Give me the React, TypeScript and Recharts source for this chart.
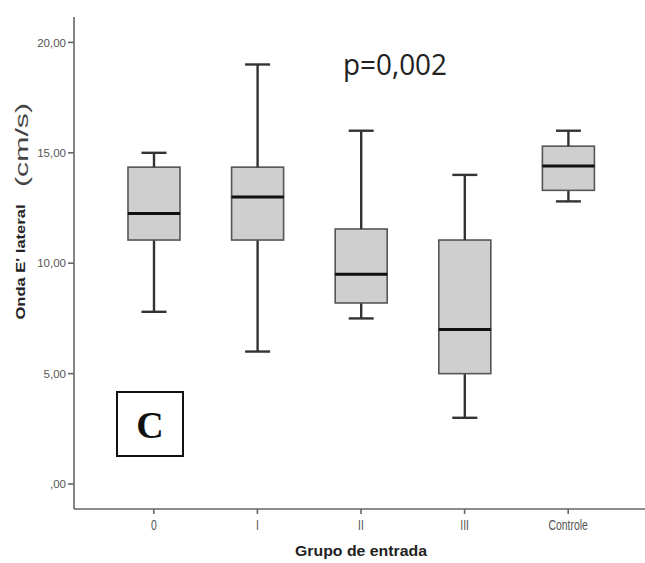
import { ComposedChart, Bar, XAxis, YAxis } from "recharts";

const groups = ["0", "I", "II", "III", "Controle"];
const whiskerLow = [7.8, 6.0, 7.5, 3.0, 12.8];
const q1 = [11.05, 11.05, 8.2, 5.0, 13.3];
const median = [12.25, 13.0, 9.5, 7.0, 14.4];
const q3 = [14.35, 14.35, 11.55, 11.05, 15.3];
const whiskerHigh = [15.0, 19.0, 16.0, 14.0, 16.0];

const yTicks = [0, 5, 10, 15, 20];
const yTickLabels = [",00", "5,00", "10,00", "15,00", "20,00"];

const data = groups.map((g, i) => ({
  group: g,
  base: whiskerLow[i],
  lowW: q1[i] - whiskerLow[i],
  boxLow: median[i] - q1[i],
  boxHigh: q3[i] - median[i],
  highW: whiskerHigh[i] - q3[i],
}));

const WHISKER = "#333";
const CAP = 12.5;

const Empty = () => <g />;

const LowerWhisker = (p: any) => {
  const cx = p.x + p.width / 2;
  const bottom = p.y + p.height;
  return (
    <g stroke={WHISKER} strokeWidth={2.4}>
      <line x1={cx} x2={cx} y1={p.y} y2={bottom} />
      <line x1={cx - CAP} x2={cx + CAP} y1={bottom} y2={bottom} />
    </g>
  );
};

const UpperWhisker = (p: any) => {
  const cx = p.x + p.width / 2;
  return (
    <g stroke={WHISKER} strokeWidth={2.4}>
      <line x1={cx} x2={cx} y1={p.y} y2={p.y + p.height} />
      <line x1={cx - CAP} x2={cx + CAP} y1={p.y} y2={p.y} />
    </g>
  );
};

const BoxLow = (p: any) => (
  <rect x={p.x} y={p.y} width={p.width} height={p.height} fill="#cfcfcf" stroke="#555" strokeWidth={1.6} />
);

const BoxHigh = (p: any) => {
  const bottom = p.y + p.height;
  return (
    <g>
      <rect x={p.x} y={p.y} width={p.width} height={p.height} fill="#cfcfcf" stroke="#555" strokeWidth={1.6} />
      <line x1={p.x} x2={p.x + p.width} y1={bottom} y2={bottom} stroke="#111" strokeWidth={3} />
    </g>
  );
};

const YTick = (p: any) => {
  const idx = yTicks.indexOf(p.payload.value);
  return (
    <text x={p.x} y={p.y} dy="0.36em" textAnchor="end" fontSize={11.5} fill="#555" fontFamily="Liberation Sans">
      {yTickLabels[idx]}
    </text>
  );
};

const XTick = (p: any) => (
  <text
    x={p.x}
    y={p.y}
    dy="0.75em"
    textAnchor="middle"
    fontSize={11}
    fill="#555"
    fontFamily="Liberation Sans"
    transform={`translate(${p.x} ${p.y}) scale(0.95 1.25) translate(${-p.x} ${-p.y})`}
  >
    {p.payload.value}
  </text>
);

const YLabel = () => (
  <g fontFamily="Liberation Sans" fill="#222">
    <text
      x={25}
      y={262}
      transform="rotate(-90 25 262)"
      textAnchor="middle"
      fontSize={13.5}
      fontWeight="bold"
      textLength={115}
      lengthAdjust="spacingAndGlyphs"
    >
      Onda E' lateral
    </text>
    <text
      x={28}
      y={145}
      transform="rotate(-90 28 145)"
      textAnchor="middle"
      fontSize={18}
      fill="#444"
      textLength={84}
      lengthAdjust="spacingAndGlyphs"
    >
      (cm/s)
    </text>
  </g>
);

const XLabel = () => (
  <text
    x={361}
    y={556}
    textAnchor="middle"
    fontSize={14}
    fontWeight="bold"
    fill="#222"
    fontFamily="Liberation Sans"
    textLength={132}
    lengthAdjust="spacingAndGlyphs"
  >
    Grupo de entrada
  </text>
);

export default function App() {
  return (
    <div style={{ position: "absolute", left: 0, top: 0, width: 645, height: 563, overflow: "hidden", background: "#fff" }}>
      <ComposedChart width={650} height={563} data={data} margin={{ top: 17, right: 2, bottom: 0, left: 0 }}>
        <XAxis
          dataKey="group"
          height={54}
          padding={{ left: 28, right: 28 }}
          tickSize={5}
          tickMargin={6}
          tick={<XTick />}
          stroke="#666"
          strokeWidth={1.6}
          label={<XLabel />}
        />
        <XAxis xAxisId="top" dataKey="group" orientation="top" height={0} tick={false} tickLine={false} stroke="#888" strokeWidth={2} />
        <YAxis
          width={74}
          domain={[-1.13, 21.15]}
          ticks={yTicks}
          allowDataOverflow
          tickSize={6}
          tickMargin={2}
          tick={<YTick />}
          stroke="#666"
          strokeWidth={1.6}
          label={<YLabel />}
        />
        <Bar dataKey="base" stackId="b" barSize={52} shape={<Empty />} isAnimationActive={false} />
        <Bar dataKey="lowW" stackId="b" barSize={52} shape={<LowerWhisker />} isAnimationActive={false} />
        <Bar dataKey="boxLow" stackId="b" barSize={52} shape={<BoxLow />} isAnimationActive={false} />
        <Bar dataKey="boxHigh" stackId="b" barSize={52} shape={<BoxHigh />} isAnimationActive={false} />
        <Bar dataKey="highW" stackId="b" barSize={52} shape={<UpperWhisker />} isAnimationActive={false} />
      </ComposedChart>
      <svg width={645} height={563} style={{ position: "absolute", left: 0, top: 0, pointerEvents: "none" }}>
        <text x={343} y={75} fontSize={30} fontFamily="Open Sans" fill="#222" textLength={104} lengthAdjust="spacingAndGlyphs">
          p=0,002
        </text>
        <rect x={117} y={392} width={66} height={64} fill="#fff" stroke="#111" strokeWidth={2} />
        <text x={150} y={438} textAnchor="middle" fontSize={38} fontWeight="bold" fontFamily="Liberation Serif" fill="#111">
          C
        </text>
      </svg>
    </div>
  );
}
